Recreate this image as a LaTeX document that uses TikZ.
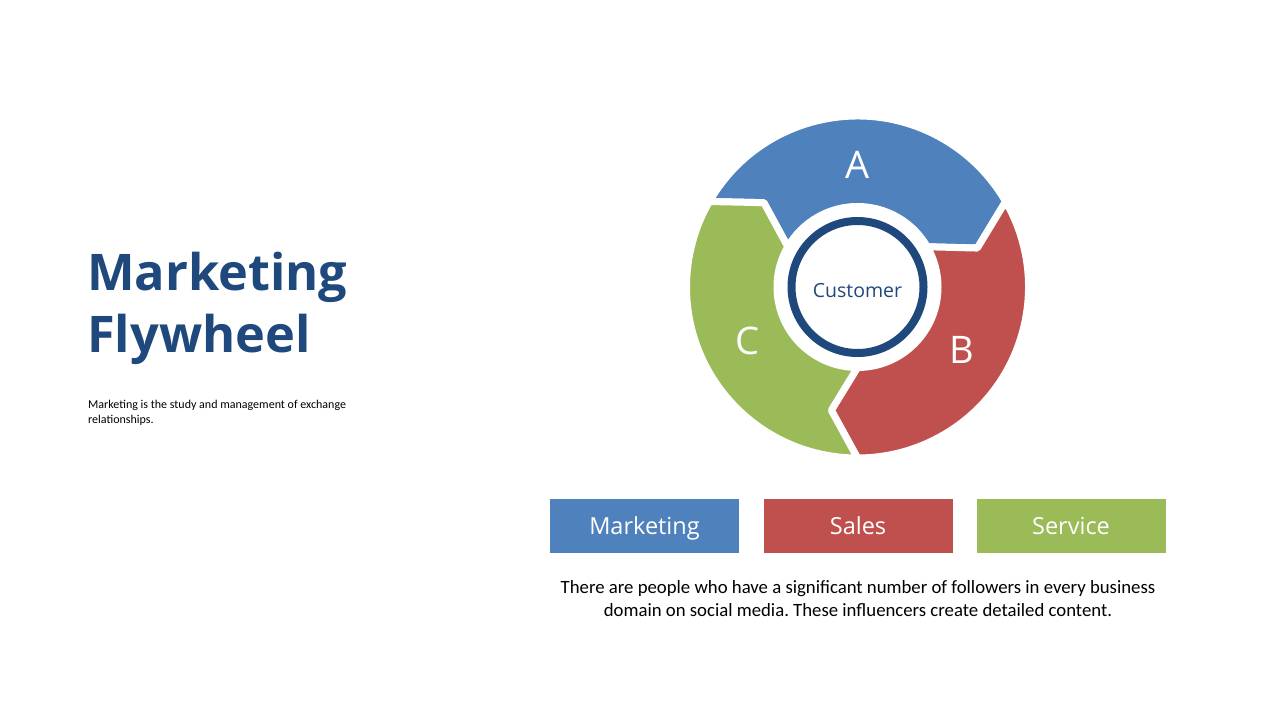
\documentclass[tikz,border=0pt]{standalone}
\usepackage{fontspec}
\setmainfont{Carlito}
\newfontfamily\uifont{Open Sans}
\frenchspacing

\definecolor{wheelblue}{HTML}{4F81BD}
\definecolor{wheelred}{HTML}{C0504D}
\definecolor{wheelgreen}{HTML}{9BBB59}
\definecolor{darknavy}{HTML}{1F497D}

\begin{document}
\begin{tikzpicture}[
    x=1pt, y=1pt,
    segment/.style  = {draw=white, line width=7pt, line join=round},
    ring/.style     = {draw=darknavy, line width=8pt},
    seglbl/.style   = {text=white, font=\uifont\fontsize{38}{40}\selectfont},
    hubtxt/.style   = {text=darknavy, font=\uifont\fontsize{19.5}{22}\selectfont},
    tagbox/.style   = {minimum width=189pt, minimum height=54pt, inner sep=0pt,
                       text height=16.8pt, text depth=0pt,
                       text=white, font=\uifont\fontsize{23.5}{28}\selectfont},
    headline/.style = {text=darknavy, anchor=base west, inner sep=0pt,
                       font=\uifont\bfseries\fontsize{50.5}{60}\selectfont},
    note/.style     = {anchor=base west, inner sep=0pt, align=left,
                       font=\fontsize{12}{15}\selectfont},
    body/.style     = {align=center, inner sep=0pt,
                       font=\fontsize{18.75}{23}\selectfont},
]
\useasboundingbox (0,0) rectangle (1280,-720);

% ============================================================
%  TITLE  (left column)
% ============================================================
\node[headline] (title1) at (87,-290) {Marketing};
\node[headline] (title2) at (87,-352) {Flywheel};
\node[note] (intro) at (88,-423)
    {Marketing is the study and management of exchange\\relationships.};

% ============================================================
%  FLYWHEEL  -- centre (857.5, 287), clockwise flow
%   outer r = 171, arrow tip r = 126, inner r = 80.5
% ============================================================
\begin{scope}[shift={(857.5,-287)}]
% ---- A  (blue, top) -------------------------------------------
\fill[wheelblue, segment]
    (150:171) arc[start angle=150, end angle=30, radius=171]
    -- (18:126) -- (30:80.5)
    arc[start angle=30, end angle=150, radius=80.5]
    -- (138:126) -- cycle;
% ---- B  (red, right) ------------------------------------------
\fill[wheelred, segment]
    (30:171) arc[start angle=30, end angle=-90, radius=171]
    -- (-102:126) -- (-90:80.5)
    arc[start angle=-90, end angle=30, radius=80.5]
    -- (18:126) -- cycle;
% ---- C  (green, left) -----------------------------------------
\fill[wheelgreen, segment]
    (-90:171) arc[start angle=-90, end angle=-210, radius=171]
    -- (-222:126) -- (-210:80.5)
    arc[start angle=-210, end angle=-90, radius=80.5]
    -- (-102:126) -- cycle;

% segment letters
\node[seglbl] (lblA) at (90:122)  {A};
\node[seglbl] (lblB) at (-31:122) {B};
\node[seglbl] (lblC) at (206:122) {C};

% hub ring
\draw[ring] (0,0) circle (66);
\node[hubtxt] (hub) at (0,-4) {Customer};
\end{scope}

% ============================================================
%  LEGEND BOXES
% ============================================================
\node[tagbox, fill=wheelblue]  (mkt) at (644.5,-526) {Marketing};
\node[tagbox, fill=wheelred]   (sls) at (858,-526)   {Sales};
\node[tagbox, fill=wheelgreen] (srv) at (1071,-526)  {Service};

% caption under the boxes
\node[body] (caption) at (858,-599)
    {There are people who have a significant number of followers in every business\\
     domain on social media. These influencers create detailed content.};

\end{tikzpicture}
\end{document}
